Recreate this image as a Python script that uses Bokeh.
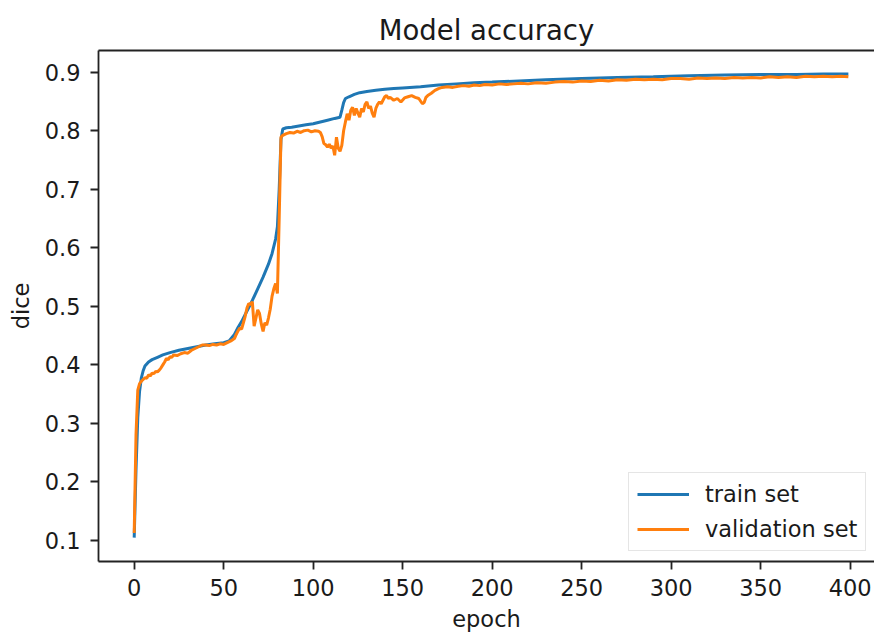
from bokeh.plotting import figure
from bokeh.models import Range1d, LinearAxis, Legend, LegendItem
from bokeh.embed import file_html
from bokeh.resources import INLINE

# ---- data ----
train_epochs = [0, 1, 2, 3, 4, 5, 6, 8, 10, 13, 16, 20, 25, 30, 35, 40, 45, 50, 53, 56, 58, 60,
                63, 66, 69, 72, 75, 77, 79, 80, 81, 82, 83, 85, 88, 92, 96, 100, 104, 108, 112,
                115, 116, 117, 118, 120, 123, 126, 130, 135, 140, 145, 150, 160, 170, 180, 190,
                200, 215, 230, 250, 270, 290, 310, 330, 350, 370, 385, 399]
train_dice = [0.105, 0.22, 0.31, 0.355, 0.378, 0.390, 0.398, 0.405, 0.409, 0.413, 0.417, 0.421,
              0.425, 0.428, 0.431, 0.434, 0.436, 0.438, 0.441, 0.452, 0.464, 0.474, 0.492, 0.510,
              0.530, 0.550, 0.572, 0.590, 0.615, 0.636, 0.70, 0.785, 0.803, 0.805, 0.806, 0.808,
              0.810, 0.812, 0.815, 0.818, 0.821, 0.823, 0.835, 0.848, 0.855, 0.858, 0.862, 0.865,
              0.867, 0.869, 0.871, 0.872, 0.873, 0.875, 0.878, 0.880, 0.882, 0.883, 0.885, 0.887,
              0.889, 0.891, 0.892, 0.894, 0.895, 0.896, 0.896, 0.897, 0.897]

val_epochs = [0, 1, 2, 3, 4, 5, 6, 7, 8, 9, 10, 11, 12, 13, 14, 15, 16, 17, 18, 19, 20, 21, 22,
              24, 26, 28, 30, 32, 34, 36, 38, 40, 42, 44, 46, 48, 50, 52, 54, 55, 56, 57, 58, 59,
              60, 61, 62, 63, 64, 65, 66, 67, 68, 69, 70, 71, 72, 73, 74, 75, 76, 77, 78, 79, 80,
              81, 82, 83, 85, 87, 89, 91, 93, 95, 97, 99, 101, 103, 104, 105, 106, 107, 108, 109,
              110, 111, 112, 113, 114, 115, 116, 117, 118, 119, 120, 121, 122, 123, 124, 125, 126,
              127, 128, 129, 130, 131, 132, 133, 134, 135, 136, 137, 138, 139, 140, 141, 142, 143,
              145, 147, 149, 151, 153, 155, 157, 159, 161, 162, 163, 164, 166, 168, 170, 172, 175,
              178, 181, 184, 187, 190, 193, 196, 200, 204, 208, 212, 216, 220, 225, 230, 235, 240,
              245, 250, 255, 260, 265, 270, 275, 280, 285, 290, 295, 300, 305, 310, 315, 320, 325,
              330, 335, 340, 345, 350, 355, 360, 365, 370, 375, 380, 385, 390, 395, 399]
val_dice = [0.113, 0.28, 0.357, 0.368, 0.372, 0.375, 0.378, 0.377, 0.383, 0.381, 0.386, 0.385,
            0.389, 0.388, 0.391, 0.395, 0.400, 0.405, 0.411, 0.409, 0.414, 0.413, 0.417, 0.416,
            0.419, 0.421, 0.420, 0.425, 0.428, 0.431, 0.434, 0.434, 0.433, 0.435, 0.434, 0.436,
            0.435, 0.438, 0.441, 0.443, 0.445, 0.452, 0.458, 0.463, 0.461, 0.472, 0.483, 0.497,
            0.505, 0.503, 0.508, 0.466, 0.480, 0.494, 0.488, 0.470, 0.457, 0.472, 0.468, 0.480,
            0.495, 0.517, 0.530, 0.539, 0.522, 0.650, 0.789, 0.792, 0.795, 0.797, 0.796, 0.799,
            0.797, 0.800, 0.801, 0.798, 0.800, 0.799, 0.797, 0.790, 0.778, 0.776, 0.772, 0.777,
            0.770, 0.774, 0.758, 0.789, 0.770, 0.765, 0.775, 0.800, 0.815, 0.829, 0.818, 0.835,
            0.840, 0.826, 0.838, 0.830, 0.823, 0.838, 0.832, 0.845, 0.849, 0.838, 0.842, 0.830,
            0.823, 0.838, 0.845, 0.849, 0.846, 0.852, 0.858, 0.860, 0.855, 0.857, 0.852, 0.855,
            0.849, 0.856, 0.858, 0.860, 0.857, 0.855, 0.846, 0.848, 0.857, 0.860, 0.864, 0.869,
            0.872, 0.874, 0.875, 0.874, 0.876, 0.877, 0.876, 0.878, 0.877, 0.879, 0.878, 0.880,
            0.879, 0.880, 0.881, 0.880, 0.882, 0.881, 0.883, 0.884, 0.883, 0.885, 0.884, 0.886,
            0.885, 0.887, 0.886, 0.888, 0.887, 0.888, 0.887, 0.889, 0.889, 0.888, 0.890, 0.889,
            0.890, 0.889, 0.891, 0.890, 0.891, 0.890, 0.892, 0.891, 0.892, 0.891, 0.893, 0.892,
            0.893, 0.892, 0.893, 0.892]

title_text = "Model accuracy"
x_label = "epoch"
y_label = "dice"
series_names = ["train set", "validation set"]
x_ticks = [0, 50, 100, 150, 200, 250, 300, 350, 400]
y_ticks = [0.1, 0.2, 0.3, 0.4, 0.5, 0.6, 0.7, 0.8, 0.9]

FONT = "DejaVu Sans"
TXT = "#1a1a1a"

p = figure(width=874, height=634, output_backend="svg", toolbar_location=None,
           x_range=Range1d(-19.95, 413.6), y_range=Range1d(0.0642, 0.937),
           min_border_left=98, min_border_right=0, min_border_top=50, min_border_bottom=72)

p.title.text = title_text
p.title.align = "center"
p.title.text_font = FONT
p.title.text_font_size = "27.5px"
p.title.text_font_style = "normal"
p.title.text_color = TXT

p.outline_line_color = None
p.xgrid.visible = False
p.ygrid.visible = False
p.background_fill_color = "white"
p.border_fill_color = "white"

for ax in (p.xaxis[0], p.yaxis[0]):
    ax.axis_line_color = "#222222"
    ax.axis_line_width = 1.8
    ax.major_tick_line_color = "#222222"
    ax.major_tick_line_width = 1.8
    ax.major_tick_out = 8
    ax.major_tick_in = 0
    ax.minor_tick_line_color = None
    ax.major_label_text_font = FONT
    ax.major_label_text_font_size = "22.5px"
    ax.major_label_text_color = TXT
    ax.axis_label_text_font = FONT
    ax.axis_label_text_font_size = "22.5px"
    ax.axis_label_text_font_style = "normal"
    ax.axis_label_text_color = TXT

p.xaxis.ticker = x_ticks
p.yaxis.ticker = y_ticks
p.xaxis.axis_label = x_label
p.yaxis.axis_label = y_label
p.xaxis.major_label_standoff = 9
p.xaxis.axis_label_standoff = 7
p.yaxis.major_label_standoff = 10
p.yaxis.axis_label_standoff = 8

top = LinearAxis(major_tick_out=0, major_tick_in=0, minor_tick_line_color=None,
                 major_label_text_font_size="0px", major_label_standoff=0,
                 axis_line_color="#222222", axis_line_width=1.8, ticker=[])
p.add_layout(top, "above")

r1 = p.line(train_epochs, train_dice, line_color="#1f77b4", line_width=3)
r2 = p.line(val_epochs, val_dice, line_color="#ff7f0e", line_width=3)

legend = Legend(items=[LegendItem(label=series_names[0], renderers=[r1]),
                       LegendItem(label=series_names[1], renderers=[r2])],
                location=(530, 10))
legend.label_text_font = FONT
legend.label_text_font_size = "22.5px"
legend.label_text_color = TXT
legend.border_line_color = "#cccccc"
legend.border_line_width = 1.5
legend.background_fill_alpha = 0.8
legend.padding = 8
legend.margin = 0
legend.spacing = 9
legend.label_standoff = 16
legend.glyph_width = 52
legend.glyph_height = 26
legend.label_height = 26
p.add_layout(legend, "center")

open("out.html", "w").write(file_html(p, INLINE))
